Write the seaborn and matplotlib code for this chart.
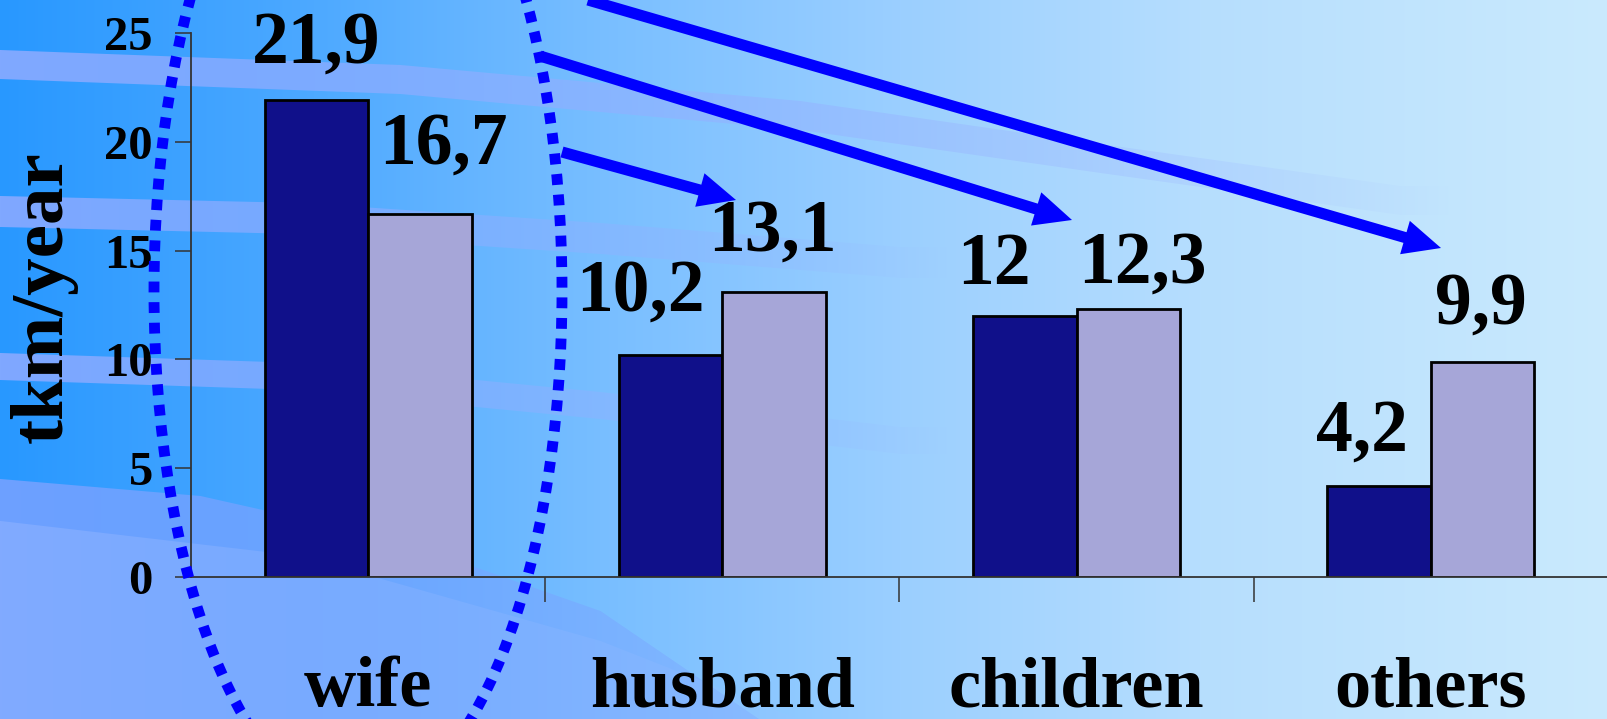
import numpy as np
import pandas as pd
import matplotlib
matplotlib.use("Agg")
import matplotlib.pyplot as plt
import seaborn as sns
from matplotlib.patches import Ellipse

# ---- data -------------------------------------------------------------
categories = ["wife", "husband", "children", "others"]
series_names = ["first", "second"]
first_values = [21.9, 10.2, 12.0, 4.2]
second_values = [16.7, 13.1, 12.3, 9.9]
y_ticks = [0, 5, 10, 15, 20, 25]
y_label = "tkm/year"

# ---- styling ------------------------------------------------------------
W, H, DPI = 1608, 719, 100
DARK = "#10108a"
LIGHT = "#a6a6d8"
ARROW_BLUE = "#0000ff"
SERIF = ["Liberation Serif", "DejaVu Serif"]

sns.set_theme(style="white")
plt.rcParams["font.family"] = SERIF
plt.rcParams["font.weight"] = "bold"
for key in ("text.color", "axes.labelcolor", "xtick.color", "ytick.color"):
    plt.rcParams[key] = "black"

fig = plt.figure(figsize=(W / DPI, H / DPI), dpi=DPI)

# ---- gradient background with soft curved bands ------------------------
bg = fig.add_axes([0, 0, 1, 1], zorder=0)
bg.set_xlim(0, W)
bg.set_ylim(H, 0)
bg.axis("off")

X, Y = np.meshgrid(np.arange(W, dtype=float), np.arange(H, dtype=float))
stops_x = [0, 300, 600, 900, 1200, W]
stops_rgb = np.array([
    [40, 152, 255], [75, 168, 255], [120, 190, 255],
    [155, 207, 255], [182, 222, 254], [202, 234, 253]]) / 255.0
img = np.stack([np.interp(X, stops_x, stops_rgb[:, c]) for c in range(3)], axis=-1)


def blend(img, mask, rgb):
    rgb = np.array(rgb) / 255.0
    return img * (1 - mask[..., None]) + rgb * mask[..., None]


def band_mask(xs, ys, half, fade_end, strength=0.8):
    yc = np.interp(X, xs, ys)
    edge = np.clip(half + 1.0 - np.abs(Y - yc), 0, 1)
    fade = np.clip(1 - X / fade_end, 0, 1) ** 0.8
    return edge * strength * fade


lav = (150, 172, 255)
img = blend(img, band_mask([0, 400, 800, 1100, 1400], [64, 79, 115, 158, 200], 14, 1450), lav)
img = blend(img, band_mask([0, 300, 600, 900], [211, 218, 238, 262], 15, 950), lav)
img = blend(img, band_mask([0, 300, 600, 900], [366, 376, 405, 440], 13, 950), lav)

# lower-left swell
yb = np.interp(X, [0, 200, 400, 600, 760, 900], [478, 495, 540, 610, 719, 800])
soft = np.clip(Y - yb, 0, 1.0)
region = soft * np.clip(1 - X / 1300, 0, 1) * 0.85
img = blend(img, region, (122, 162, 255))
yb2 = np.interp(X, [0, 300, 600, 800], [520, 555, 640, 719])
soft2 = np.clip(Y - yb2, 0, 1.0) * np.clip(1 - X / 1100, 0, 1) * 0.35
img = blend(img, soft2, (165, 190, 255))

bg.imshow(img, extent=(0, W, H, 0), aspect="auto", interpolation="bilinear")

# ---- bar chart ----------------------------------------------------------
ax = fig.add_axes([191 / W, 1 - 577 / H, (W - 191) / W, (577 - 33) / H], zorder=2)
ax.set_facecolor("none")

df = pd.DataFrame({
    "category": categories * 2,
    "value": first_values + second_values,
    "series": [series_names[0]] * len(categories) + [series_names[1]] * len(categories),
})
sns.barplot(data=df, x="category", y="value", hue="series", order=categories,
            hue_order=series_names, palette=[DARK, LIGHT], width=0.585, gap=0,
            edgecolor="black", linewidth=2.0, saturation=1, legend=False, ax=ax)

ax.set_xlim(-0.5, len(categories) - 0.5)
ax.set_ylim(0, 25)
for side in ("top", "right"):
    ax.spines[side].set_visible(False)
for side in ("left", "bottom"):
    ax.spines[side].set_color("#333333")
    ax.spines[side].set_linewidth(1.3)

ax.set_yticks(y_ticks)
ax.set_yticklabels([str(t) for t in y_ticks])
ax.tick_params(axis="y", direction="out", length=11.5, width=1.1, color="#333333",
               pad=16, labelsize=35, left=True, labelcolor="black")

ax.set_xticks(np.arange(len(categories) - 1) + 0.5)
ax.set_xticklabels([])
ax.set_xticks(np.arange(len(categories)), minor=True)
ax.set_xticklabels(categories, minor=True)
ax.tick_params(axis="x", which="major", direction="out", length=18, width=1.1,
               color="#333333", bottom=True)
ax.tick_params(axis="x", which="minor", length=0, pad=57, labelsize=52, bottom=True,
               labelcolor="black")
ax.set_xlabel("")

ax.set_ylabel(y_label, fontsize=54, fontweight="bold", color="black")
ax.yaxis.set_label_coords(-0.104, 0.515)
ax.yaxis.label.set_va("center")

# value labels, nudged per bar (pixels: right, up from bar top)
label_nudges = [
    [(0, 38), (-30, 44), (-31, 32), (-17, 35)],
    [(23, 50), (-2, 41), (14, 27), (-2, 38)],
]
for cont, nudges in zip(ax.containers, label_nudges):
    for bar, (dx, dy) in zip(cont, nudges):
        v = bar.get_height()
        txt = f"{v:g}".replace(".", ",")
        ax.annotate(txt, (bar.get_x() + bar.get_width() / 2, v),
                    xytext=(dx * 72 / DPI, dy * 72 / DPI), textcoords="offset points",
                    ha="center", va="baseline", fontsize=53, fontweight="bold",
                    color="black", annotation_clip=False)

# ---- overlay: dotted ellipse and arrows --------------------------------
ov = fig.add_axes([0, 0, 1, 1], zorder=3)
ov.set_xlim(0, W)
ov.set_ylim(H, 0)
ov.axis("off")
ov.patch.set_alpha(0)

ell = Ellipse((358, 291), 408, 1028, fill=False, edgecolor=ARROW_BLUE,
              linewidth=7.8, linestyle=(0, (1.0, 0.9)))
ell.set_capstyle("butt")
ov.add_patch(ell)

for start, tip in [((562, 152), (736, 200)),
                   ((540, 56), (1072, 220)),
                   ((588, 0), (1441, 248))]:
    ov.annotate("", xy=tip, xytext=start,
                arrowprops=dict(width=8, headwidth=25, headlength=27, shrink=0,
                                color=ARROW_BLUE, linewidth=0),
                annotation_clip=False)

fig.savefig("out.png", dpi=DPI)
